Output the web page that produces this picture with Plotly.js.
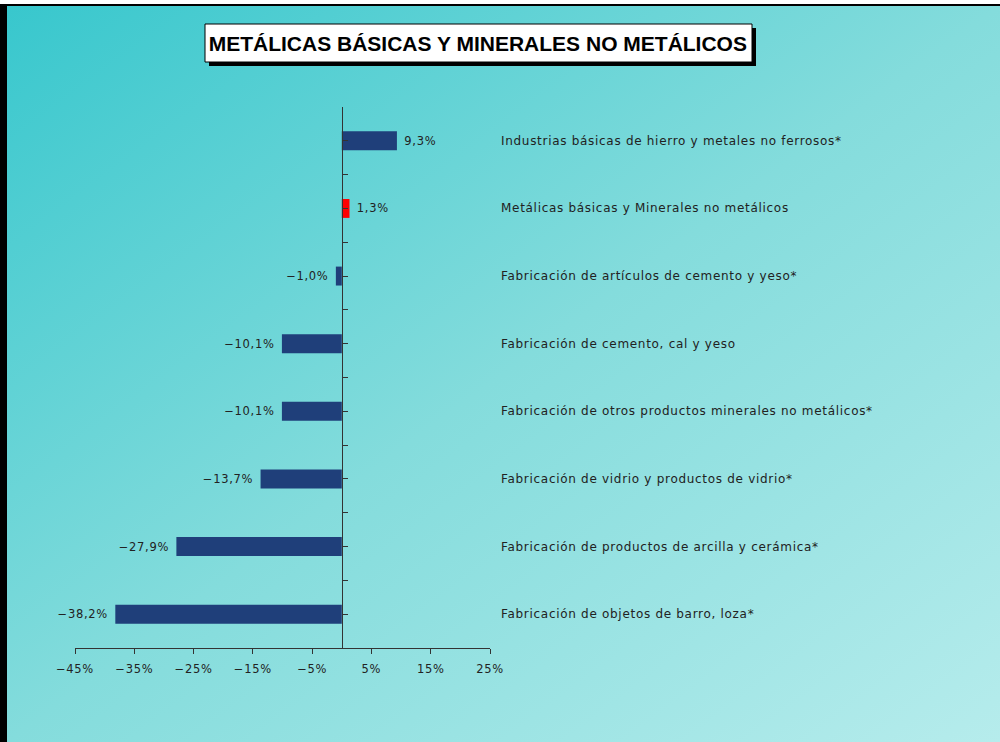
<!DOCTYPE html>
<html>
<head>
<meta charset="utf-8">
<script src="https://cdn.plot.ly/plotly-3.0.1.min.js"></script>
<style>
  body { margin: 0; background: #ffffff; }
  #bg {
    position: absolute; left: 0; top: 4px; width: 993px; height: 736px;
    border-left: 7px solid #000; border-top: 2px solid #000;
    background: linear-gradient(to bottom right, #38c7cd 0%, #84dcdc 50%, #b6ecec 100%);
  }
  #chart { position: absolute; left: 0; top: 0; width: 1000px; height: 742px; }
  text { letter-spacing: 0.7px; }
  #chart .annotation[data-index="8"] text { letter-spacing: 0; }
</style>
</head>
<body>
<div id="bg"></div>
<div id="chart"></div>
<script>
// categories top to bottom
var categories = [
  'Industrias básicas de hierro y metales no ferrosos*',
  'Metálicas básicas y Minerales no metálicos',
  'Fabricación de artículos de cemento y yeso*',
  'Fabricación de cemento, cal y yeso',
  'Fabricación de otros productos minerales no metálicos*',
  'Fabricación de vidrio y productos de vidrio*',
  'Fabricación de productos de arcilla y cerámica*',
  'Fabricación de objetos de barro, loza*'
];
var values = [9.3, 1.3, -1.0, -10.1, -10.1, -13.7, -27.9, -38.2];
var xTicks = [-45, -35, -25, -15, -5, 5, 15, 25];
var chartTitle = 'METÁLICAS BÁSICAS Y MINERALES NO METÁLICOS';

var n = categories.length;
var ypos = categories.map(function(c, i) { return n - 1 - i; });
var colors = categories.map(function(c, i) { return i == 1 ? '#ff0000' : '#1f3f7a'; });
function pct(v, d) { return v.toFixed(d).replace('.', ',').replace('-', '\u2212') + '%'; }
// a little gap between bar end and its label
var labels = values.map(function(v) {
  return v >= 0 ? '\u00a0' + pct(v, 1) : pct(v, 1) + '\u00a0';
});
var xTickText = xTicks.map(function(v) { return pct(v, 0); });

// plot area in page pixels
var L = 75, R = 490, T = 107, B = 648;
function px(x) { return (x - L) / (R - L); }
function py(y) { return (B - y) / (B - T); }

var trace = {
  type: 'bar',
  orientation: 'h',
  x: values,
  y: ypos,
  width: 0.28,
  marker: { color: colors },
  text: labels,
  textposition: 'outside',
  textfont: { family: 'DejaVu Sans', size: 11.5, color: '#222' },
  cliponaxis: false,
  hoverinfo: 'skip'
};

var annotations = categories.map(function(c, i) {
  return {
    xref: 'paper', yref: 'y', x: px(499), y: ypos[i],
    text: c, showarrow: false, xanchor: 'left', yanchor: 'middle', align: 'left',
    font: { family: 'DejaVu Sans', size: 12, color: '#222' }
  };
});
annotations.push({
  xref: 'paper', yref: 'paper', x: px(478), y: py(43),
  text: '<b>' + chartTitle + '</b>', showarrow: false,
  xanchor: 'center', yanchor: 'middle',
  font: { family: 'Liberation Sans', size: 21, color: '#000' }
});

var layout = {
  width: 1000, height: 742,
  margin: { l: L, r: 1000 - R, t: T, b: 742 - B, pad: 0 },
  paper_bgcolor: 'rgba(0,0,0,0)',
  plot_bgcolor: 'rgba(0,0,0,0)',
  showlegend: false,
  xaxis: {
    range: [-45, 25], tickvals: xTicks, ticktext: xTickText,
    showgrid: false, zeroline: false, showline: true,
    linecolor: '#333', linewidth: 1,
    ticks: 'outside', ticklen: 5, tickcolor: '#333',
    ticklabelstandoff: 5,
    tickfont: { family: 'DejaVu Sans', size: 11.5, color: '#222' }
  },
  yaxis: {
    range: [-0.5, n - 0.5], anchor: 'free', position: 45 / 70,
    tick0: -0.5, dtick: 0.5, showticklabels: false,
    showgrid: false, zeroline: false, showline: true,
    linecolor: '#333', linewidth: 1,
    ticks: 'inside', ticklen: 5, tickcolor: '#333'
  },
  shapes: [
    { type: 'rect', xref: 'paper', yref: 'paper',
      x0: px(209), x1: px(756), y0: py(28), y1: py(66),
      fillcolor: '#000', line: { width: 0 } },
    { type: 'rect', xref: 'paper', yref: 'paper',
      x0: px(205), x1: px(752), y0: py(24), y1: py(62),
      fillcolor: '#fff', line: { color: '#000', width: 1 } }
  ],
  annotations: annotations
};

Plotly.newPlot('chart', [trace], layout, { displayModeBar: false, staticPlot: true });
</script>
</body>
</html>
